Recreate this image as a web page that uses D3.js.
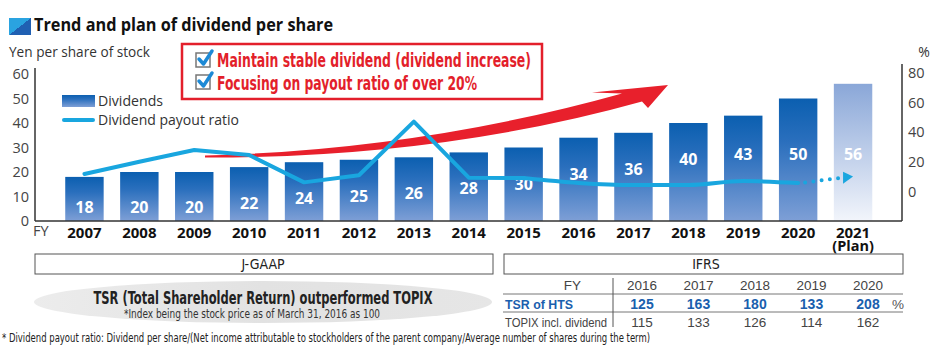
<!DOCTYPE html>
<html><head><meta charset="utf-8">
<script src="https://cdn.jsdelivr.net/npm/d3@7/dist/d3.min.js"></script>
<style>html,body{margin:0;padding:0;background:#fff;}svg{display:block;}</style>
</head><body>
<script>
// ---------- data ----------
const years = ["2007","2008","2009","2010","2011","2012","2013","2014","2015","2016","2017","2018","2019","2020","2021"];
const dividends = [18,20,20,22,24,25,26,28,30,34,36,40,43,50,56];
const payoutRatio = [11.8,20,28,24.6,6.1,10.9,47.1,9.3,9,5.7,4.3,4.3,7,5.7]; // 2007-2020
const payoutPlan = 10; // 2021 plan direction
const leftTicks = [0,10,20,30,40,50,60];
const rightTicks = [0,20,40,60,80];
const tsrYears = ["2016","2017","2018","2019","2020"];
const tsrHTS = [125,163,180,133,208];
const topixDiv = [115,133,126,114,162];
const boxLines = ["Maintain stable dividend (dividend increase)","Focusing on payout ratio of over 20%"];

// ---------- setup ----------
const W = 938, H = 356;
const NARROW = "'Liberation Sans Narrow','DejaVu Sans Condensed','Open Sans',sans-serif";
const REG = "'Open Sans','Noto Sans',sans-serif";
const svg = d3.select("body").append("svg").attr("width", W).attr("height", H);
const defs = svg.append("defs");

const barGrad = defs.append("linearGradient").attr("id","barGrad").attr("x1",0).attr("y1",0).attr("x2",0).attr("y2",1);
barGrad.append("stop").attr("offset","0%").attr("stop-color","#0b5fb0");
barGrad.append("stop").attr("offset","35%").attr("stop-color","#2a6fbd");
barGrad.append("stop").attr("offset","100%").attr("stop-color","#7e9fd6");
const planGrad = defs.append("linearGradient").attr("id","planGrad").attr("x1",0).attr("y1",0).attr("x2",0).attr("y2",1);
planGrad.append("stop").attr("offset","0%").attr("stop-color","#8aa7d8");
planGrad.append("stop").attr("offset","100%").attr("stop-color","#f2f5fb");
const iconGrad = defs.append("linearGradient").attr("id","iconGrad").attr("x1",0).attr("y1",0).attr("x2",1).attr("y2",1);
iconGrad.append("stop").attr("offset","50%").attr("stop-color","#2aa3e0");
iconGrad.append("stop").attr("offset","50%").attr("stop-color","#2060b2");
const ellGrad = defs.append("linearGradient").attr("id","ellGrad").attr("x1",0).attr("y1",0).attr("x2",1).attr("y2",0);
ellGrad.append("stop").attr("offset","0%").attr("stop-color","#ececec");
ellGrad.append("stop").attr("offset","50%").attr("stop-color","#e2e2e2");
ellGrad.append("stop").attr("offset","100%").attr("stop-color","#e6e6e6");

function fit(sel, w){ sel.attr("textLength", w).attr("lengthAdjust","spacingAndGlyphs"); return sel; }

// ---------- scales ----------
const x = d3.scaleBand().domain(years).range([57, 880.5]).paddingInner(0.3).paddingOuter(0.15);
const y = d3.scaleLinear().domain([0,60]).range([221,74]);
const y2 = d3.scaleLinear().domain([-20,80]).range([221,73]);
const cx = d => x(d) + x.bandwidth()/2;

// ---------- title ----------
svg.append("rect").attr("x",9).attr("y",18).attr("width",22).attr("height",17).attr("fill","url(#iconGrad)");
fit(svg.append("text").attr("x",34).attr("y",31).attr("font-family",REG).attr("font-weight","bold")
  .attr("font-size",18).attr("fill","#111").text("Trend and plan of dividend per share"), 299);

fit(svg.append("text").attr("x",9).attr("y",57).attr("font-family",REG).attr("font-size",14)
  .attr("fill","#333").text("Yen per share of stock"), 141);
svg.append("text").attr("x",924).attr("y",57).attr("text-anchor","middle").attr("font-family",REG)
  .attr("font-size",14).attr("fill","#333").text("%");

// ---------- red arrow ----------
svg.append("path")
  .attr("d","M205,155.5 Q420,150 622,93.5 L592,92.5 L668,85 L648,108 L642,101.5 Q440,158 205,157.5 Z")
  .attr("fill","#e8202c");

// ---------- bars ----------
const bars = svg.append("g");
bars.selectAll("rect").data(years).join("rect")
  .attr("x", d => x(d)).attr("width", x.bandwidth())
  .attr("y", (d,i) => y(dividends[i])).attr("height", (d,i) => y(0) - y(dividends[i]))
  .attr("fill", (d,i) => i === years.length-1 ? "url(#planGrad)" : "url(#barGrad)");
bars.selectAll("text").data(years).join("text")
  .attr("x", d => cx(d))
  .attr("y", (d,i) => Math.min(207, Math.max(y(dividends[i]) + 36, 154)) + 6)
  .attr("text-anchor","middle").attr("font-family",REG).attr("font-weight","bold")
  .attr("font-size",16).attr("fill","#fff").text((d,i) => dividends[i]);

// ---------- payout line ----------
const pts = payoutRatio.map((v,i) => [cx(years[i]), y2(v)]);
const lineLin = d3.line().curve(d3.curveLinear);
const lineSm = d3.line().curve(d3.curveMonotoneX);
const lg = svg.append("g").attr("fill","none").attr("stroke","#19a6df").attr("stroke-width",4)
  .attr("stroke-linejoin","round").attr("stroke-linecap","round");
lg.append("path").attr("d", lineLin(pts.slice(0,9)));
lg.append("path").attr("d", lineSm(pts.slice(8)));
// dotted plan extension
const last = pts[pts.length-1];
const planPt = [cx(years[14]), y2(payoutPlan)];
const ax = planPt[0] - 10;
const ay = last[1] + (planPt[1]-last[1]) * (ax - last[0]) / (planPt[0]-last[0]);
lg.append("path").attr("d", `M${last[0]+7},${last[1]-0.5} L${ax-2},${ay}`)
  .attr("stroke-dasharray","0 8.3");
svg.append("path").attr("d", `M${planPt[0]},${planPt[1]} L${ax},${ay-6} L${ax},${ay+6} Z`).attr("fill","#19a6df");

// ---------- axes ----------
const axisColor = "#333";
svg.append("line").attr("x1",35).attr("x2",35).attr("y1",68).attr("y2",221).attr("stroke",axisColor).attr("stroke-width",1.5);
svg.append("line").attr("x1",902).attr("x2",902).attr("y1",64).attr("y2",221).attr("stroke",axisColor).attr("stroke-width",1.5);
svg.append("line").attr("x1",35).attr("x2",902).attr("y1",221).attr("y2",221).attr("stroke",axisColor).attr("stroke-width",1.5);

const gl = svg.append("g").attr("transform","translate(35,0)")
  .call(d3.axisLeft(y).tickValues(leftTicks).tickSize(0).tickPadding(6));
gl.select(".domain").remove();
gl.selectAll("text").attr("font-family",REG).attr("font-size",14.5).attr("fill","#444");

const gr = svg.append("g").attr("transform","translate(902,0)")
  .call(d3.axisRight(y2).tickValues(rightTicks).tickSize(0).tickPadding(6));
gr.select(".domain").remove();
gr.selectAll("text").attr("font-family",REG).attr("font-size",14.5).attr("fill","#444");

const gx = svg.append("g").attr("transform","translate(0,221)")
  .call(d3.axisBottom(x).tickSize(0));
gx.select(".domain").remove();
gx.selectAll("text").attr("dy",null).attr("y",17).attr("font-family",REG).attr("font-weight","bold")
  .attr("font-size",15).attr("fill","#111");
// "(Plan)" as a second line of the 2021 tick label
gx.selectAll(".tick text").filter(d => d === "2021")
  .append("tspan").attr("x",0).attr("dy",12.5).attr("font-size",14.5).text("(Plan)");
svg.append("text").attr("x",33).attr("y",236).attr("font-family",REG).attr("font-size",14.5)
  .attr("fill","#444").text("FY");

// ---------- legend ----------
svg.append("rect").attr("x",62).attr("y",95).attr("width",33).attr("height",12).attr("fill","url(#barGrad)");
fit(svg.append("text").attr("x",98).attr("y",106).attr("font-family",REG).attr("font-size",13.8)
  .attr("fill","#333").text("Dividends"), 65);
svg.append("line").attr("x1",64).attr("x2",93).attr("y1",120).attr("y2",120).attr("stroke","#19a6df")
  .attr("stroke-width",4).attr("stroke-linecap","round");
fit(svg.append("text").attr("x",98).attr("y",125).attr("font-family",REG).attr("font-size",13.8)
  .attr("fill","#333").text("Dividend payout ratio"), 141);

// ---------- red box ----------
svg.append("rect").attr("x",182).attr("y",44).attr("width",360).attr("height",55)
  .attr("fill","#fff").attr("stroke","#e31f2b").attr("stroke-width",2.5);
boxLines.forEach((t,i) => {
  const by = 53 + i*22;
  svg.append("rect").attr("x",196).attr("y",by).attr("width",14).attr("height",14)
    .attr("fill","#fff").attr("stroke","#777").attr("stroke-width",1.5);
  svg.append("path").attr("d",`M199,${by+6} L203.5,${by+11} L212,${by-2}`).attr("fill","none")
    .attr("stroke","#1d8ad6").attr("stroke-width",3.5).attr("stroke-linecap","round").attr("stroke-linejoin","round");
  fit(svg.append("text").attr("x",217).attr("y",67 + i*23).attr("font-family",NARROW).attr("font-weight","bold")
    .attr("font-size",19).attr("fill","#e31f2b").text(t), i === 0 ? 314 : 260);
});

// ---------- accounting boxes ----------
svg.append("rect").attr("x",35).attr("y",254).attr("width",458).attr("height",20).attr("fill","#fff").attr("stroke","#555").attr("stroke-width",1);
svg.append("text").attr("x",263).attr("y",269).attr("text-anchor","middle").attr("font-family",NARROW)
  .attr("font-size",14).attr("fill","#222").text("J-GAAP");
svg.append("rect").attr("x",504).attr("y",254).attr("width",399).attr("height",20).attr("fill","#fff").attr("stroke","#555").attr("stroke-width",1);
svg.append("text").attr("x",706).attr("y",269).attr("text-anchor","middle").attr("font-family",NARROW)
  .attr("font-size",14).attr("fill","#222").text("IFRS");

// ---------- TSR ellipse ----------
svg.append("ellipse").attr("cx",263).attr("cy",302).attr("rx",229).attr("ry",21).attr("fill","url(#ellGrad)");
fit(svg.append("text").attr("x",263).attr("y",303.5).attr("text-anchor","middle").attr("font-family",NARROW)
  .attr("font-weight","bold").attr("font-size",18).attr("fill","#222")
  .text("TSR (Total Shareholder Return) outperformed TOPIX"), 339);
fit(svg.append("text").attr("x",252).attr("y",318).attr("text-anchor","middle").attr("font-family",NARROW)
  .attr("font-size",12).attr("fill","#333").text("*Index being the stock price as of March 31, 2016 as 100"), 256);

// ---------- TSR table ----------
const colX = d3.scalePoint().domain(tsrYears).range([642, 868]);
const TF = "'Liberation Sans','Open Sans',sans-serif";
const tbl = svg.append("g").attr("font-family",TF);
tbl.append("line").attr("x1",503).attr("x2",903).attr("y1",294).attr("y2",294).attr("stroke","#777").attr("stroke-width",1);
tbl.append("line").attr("x1",503).attr("x2",903).attr("y1",312).attr("y2",312).attr("stroke","#777").attr("stroke-width",1);
tbl.append("line").attr("x1",613).attr("x2",613).attr("y1",278).attr("y2",327).attr("stroke","#555").attr("stroke-width",1);
tbl.append("text").attr("x",581).attr("y",290).attr("text-anchor","end").attr("font-size",13.5).attr("fill","#444").text("FY");
tbl.selectAll(".fy").data(tsrYears).join("text").attr("class","fy")
  .attr("x", d => colX(d)).attr("y",290).attr("text-anchor","middle").attr("font-size",13.5).attr("fill","#444")
  .text(d => d);
fit(tbl.append("text").attr("x",505).attr("y",309).attr("font-weight","bold").attr("font-size",13.5)
  .attr("fill","#1a5fae").text("TSR of HTS"), 68);
tbl.selectAll(".hts").data(tsrHTS).join("text").attr("class","hts")
  .attr("x", (d,i) => colX(tsrYears[i])).attr("y",309).attr("text-anchor","middle").attr("font-weight","bold")
  .attr("font-size",14).attr("fill","#1a5fae").text(d => d);
tbl.append("text").attr("x",898).attr("y",309).attr("text-anchor","middle").attr("font-size",13.5).attr("fill","#555").text("%");
fit(tbl.append("text").attr("x",505).attr("y",326.5).attr("font-size",13.5).attr("fill","#444").text("TOPIX incl. dividend"), 102);
tbl.selectAll(".tpx").data(topixDiv).join("text").attr("class","tpx")
  .attr("x", (d,i) => colX(tsrYears[i])).attr("y",326.5).attr("text-anchor","middle")
  .attr("font-size",13.5).attr("fill","#444").text(d => d);

// ---------- footnote ----------
fit(svg.append("text").attr("x",2).attr("y",342).attr("font-family",NARROW).attr("font-size",12).attr("fill","#222")
  .text("* Dividend payout ratio: Dividend per share/(Net income attributable to stockholders of the parent company/Average number of shares during the term)"), 648);
</script>
</body></html>
